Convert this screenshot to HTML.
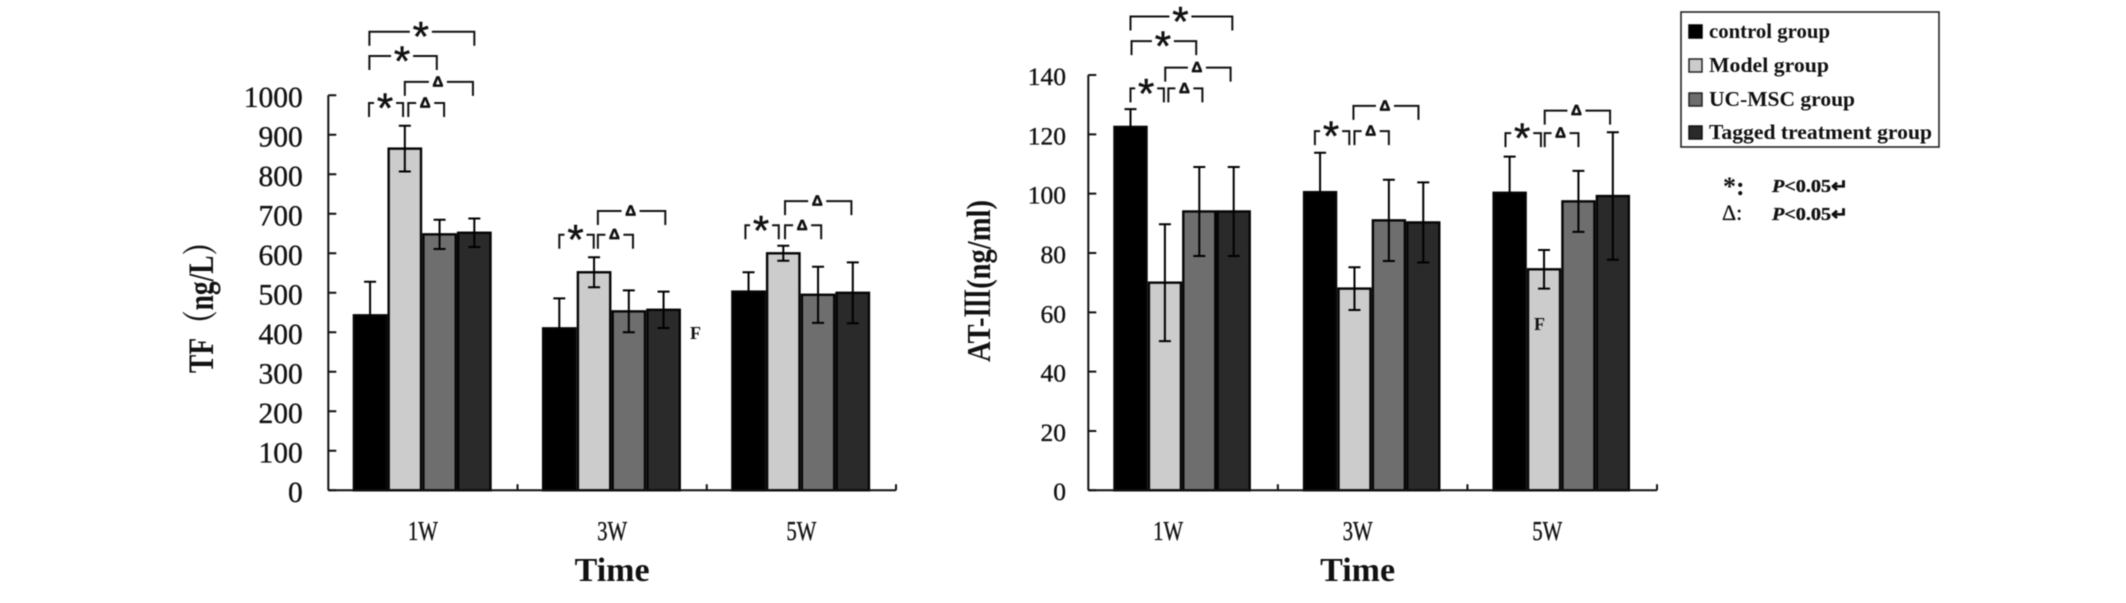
<!DOCTYPE html>
<html lang="en">
<head>
<meta charset="utf-8">
<title>TF and AT-III levels by group over time</title>
<style>
html,body{margin:0;padding:0;background:#fff;}
body{width:2126px;height:603px;overflow:hidden;}
svg{display:block;filter:blur(0.55px);}
text{fill:#111;}
.tick{font-family:"Liberation Serif","Noto Serif CJK SC",serif;stroke:#111;stroke-width:0.35px;}
.bold{font-family:"Liberation Serif","Noto Serif CJK SC",serif;font-weight:bold;}
</style>
</head>
<body>
<svg id="figure" xmlns="http://www.w3.org/2000/svg" width="2126" height="603" viewBox="0 0 2126 603">
  <g>
    <rect x="1681" y="12" width="258" height="135" fill="#fff" stroke="#222" stroke-width="1.6"/>
    <rect x="1689" y="25" width="13" height="13" fill="#000" stroke="#000" stroke-width="1.5"/>
    <text class="bold" x="1709" y="38" font-size="21" textLength="121" lengthAdjust="spacingAndGlyphs">control group</text>
    <rect x="1689" y="59" width="13" height="13" fill="#ccc" stroke="#222" stroke-width="1.5"/>
    <text class="bold" x="1709" y="72" font-size="21" textLength="120" lengthAdjust="spacingAndGlyphs">Model group</text>
    <rect x="1689" y="93" width="13" height="13" fill="#6e6e6e" stroke="#222" stroke-width="1.5"/>
    <text class="bold" x="1709" y="106" font-size="21" textLength="146" lengthAdjust="spacingAndGlyphs">UC-MSC group</text>
    <rect x="1689" y="126" width="13" height="13" fill="#2a2a2a" stroke="#111" stroke-width="1.5"/>
    <text class="bold" x="1709" y="139" font-size="21" textLength="223" lengthAdjust="spacingAndGlyphs">Tagged treatment group</text>
  </g>
  <g>
    <text class="bold" x="1723" y="195" font-size="26">*:</text>
    <text class="tick" x="1772" y="192" font-size="18" font-weight="bold" textLength="76" lengthAdjust="spacingAndGlyphs"><tspan font-style="italic">P</tspan>&lt;0.05↵</text>
    <text class="tick" x="1722" y="220" font-size="22">Δ:</text>
    <text class="tick" x="1772" y="220" font-size="18" font-weight="bold" textLength="76" lengthAdjust="spacingAndGlyphs"><tspan font-style="italic">P</tspan>&lt;0.05↵</text>
  </g>
</svg>
<script>
// Shared categories and series names
const categories = ['1W', '3W', '5W'];
const seriesKeys = ['control', 'model', 'uc-msc', 'tagged'];
const seriesFills = ['#000000', '#cccccc', '#6e6e6e', '#2a2a2a'];

// TF chart data (ng/L), one row per week, one entry per group
const tfValues = [
  [443, 865, 648, 652],
  [410, 552, 453, 457],
  [503, 600, 495, 500]
];
const tfErrors = [
  [85, 58, 37, 36],
  [76, 38, 53, 46],
  [49, 19, 71, 77]
];
const tfTicks = [0, 100, 200, 300, 400, 500, 600, 700, 800, 900, 1000];

// AT-III chart data (ng/ml)
const atValues = [
  [122.5, 70, 94, 94],
  [100.5, 68, 91, 90.3],
  [100.3, 74.5, 97.4, 99.2]
];
const atErrors = [
  [6, 19.7, 15, 15],
  [13.3, 7.2, 13.7, 13.5],
  [12.2, 6.5, 10.3, 21.5]
];
const atTicks = [0, 20, 40, 60, 80, 100, 120, 140];

// Significance brackets: week index, start/end in bar-index units, height in data units, symbol
const tfBracketWeek = [0, 0, 0, 0, 0, 1, 1, 1, 2, 2, 2];
const tfBracketFrom = [-0.02, -0.02, 1, -0.03, 1.1, 0, 1.11, 1.11, -0.09, 1.05, 1.05];
const tfBracketTo = [3, 1.92, 2.96, 0.95, 2.13, 0.99, 2.12, 3.05, 0.87, 2.09, 2.96];
const tfBracketLevel = [1161, 1099.5, 1034, 980.5, 980.5, 647, 647, 707, 671, 671, 732];
const atBracketWeek = [0, 0, 0, 0, 0, 1, 1, 1, 2, 2, 2];
const atBracketFrom = [0, 0.03, 1.01, 0, 1.1, -0.15, 1, 0.97, -0.12, 1.02, 1.02];
const atBracketTo = [2.96, 1.91, 2.91, 0.97, 2.09, 0.85, 2, 2.86, 0.91, 2, 2.92];
const atBracketLevel = [159.7, 151.4, 142.5, 135.5, 135.5, 121.1, 121.1, 129.6, 120.4, 120.4, 128];
const bracketSymbols = ['*', '*', 'Δ', '*', 'Δ', '*', 'Δ', 'Δ', '*', 'Δ', 'Δ'];

const NS = 'http://www.w3.org/2000/svg';
const figure = document.getElementById('figure');

function make(tag, parent) {
  const el = document.createElementNS(NS, tag);
  parent.appendChild(el);
  return el;
}
function setAll(el, attrs) {
  Object.keys(attrs).forEach(function (k) { el.setAttribute(k, attrs[k]); });
}

function drawChart(cfg) {
  const root = make('g', figure);
  
  

  const yScale = function (v) { return cfg.y0 - (v / cfg.yMax) * (cfg.y0 - cfg.yTop); };
  const catWidth = (cfg.xEnd - cfg.x0) / categories.length;
  const barX = function (g, i) { return cfg.x0 + catWidth * g + cfg.pad + i * cfg.barW; };
  const barCenter = function (g, i) { return barX(g, i) + cfg.barW / 2; };

  // Bars
  cfg.values.forEach(function (row, g) {
    row.forEach(function (v, i) {
      const bar = make('rect', root);
      
      
      setAll(bar, {
        x: barX(g, i) + 1.2, y: yScale(v),
        width: cfg.barW - 2.4, height: cfg.y0 - yScale(v),
        fill: seriesFills[i], stroke: '#050505', 'stroke-width': 2.4
      });
    });
  });

  // Error bars
  cfg.values.forEach(function (row, g) {
    row.forEach(function (v, i) {
      const err = make('path', root);
      
      
      const cx = barCenter(g, i);
      const hi = yScale(v + cfg.errors[g][i]);
      const lo = yScale(v - cfg.errors[g][i]);
      setAll(err, {
        d: 'M' + (cx - 6) + ' ' + hi + 'H' + (cx + 6) + 'M' + cx + ' ' + hi + 'V' + lo + 'M' + (cx - 6) + ' ' + lo + 'H' + (cx + 6),
        stroke: '#000', 'stroke-width': 2, fill: 'none'
      });
    });
  });

  // Y axis with ticks and tick labels
  const yAxis = make('path', root);
  
  
  let yd = 'M' + cfg.x0 + ' ' + cfg.y0 + 'V' + cfg.yTop;
  cfg.ticks.forEach(function (t) { yd += 'M' + cfg.x0 + ' ' + yScale(t) + 'h8'; });
  setAll(yAxis, { d: yd, stroke: '#111', 'stroke-width': 2, fill: 'none' });

  cfg.ticks.forEach(function (t) {
    const lab = make('text', root);
    
    
    lab.setAttribute('class', 'tick');
    setAll(lab, { x: cfg.tickRight, y: yScale(t) + cfg.tickSize * 0.39, 'text-anchor': 'end', 'font-size': cfg.tickSize });
    lab.textContent = t;
  });

  // X axis
  const xAxis = make('path', root);
  
  
  let xd = 'M' + cfg.x0 + ' ' + cfg.y0 + 'H' + cfg.xEnd;
  categories.forEach(function (c, g) { xd += 'M' + (cfg.x0 + catWidth * (g + 1)) + ' ' + cfg.y0 + 'v-6'; });
  setAll(xAxis, { d: xd, stroke: '#111', 'stroke-width': 2, fill: 'none' });

  categories.forEach(function (c, g) {
    const lab = make('text', root);
    
    
    lab.setAttribute('class', 'tick');
    setAll(lab, { x: cfg.x0 + catWidth * (g + 0.5) + cfg.labelDx, y: 540, 'text-anchor': 'middle', 'font-size': 27, textLength: 30, lengthAdjust: 'spacingAndGlyphs' });
    lab.textContent = c;
  });

  // Axis titles
  const xTitle = make('text', root);
  
  
  xTitle.setAttribute('class', 'bold');
  setAll(xTitle, { x: cfg.x0 + (cfg.xEnd - cfg.x0) / 2 + cfg.labelDx, y: 581, 'text-anchor': 'middle', 'font-size': 34 });
  xTitle.textContent = 'Time';

  const yTitle = make('text', root);
  
  
  yTitle.setAttribute('class', 'bold');
  setAll(yTitle, {
    transform: 'translate(' + cfg.titleX + ' ' + cfg.titleY + ') rotate(-90)',
    'text-anchor': 'middle', 'font-size': cfg.titleSize,
    textLength: cfg.titleLen, lengthAdjust: 'spacingAndGlyphs'
  });
  yTitle.textContent = cfg.title;

  // Significance brackets
  cfg.brWeek.forEach(function (g, n) {
    const at = function (u) { return barCenter(g, 0) + u * cfg.barW; };
    const xa = at(cfg.brFrom[n]);
    const xb = at(cfg.brTo[n]);
    const y = yScale(cfg.brLevel[n]);
    const cx = (xa + xb) / 2 - 1;
    const sym = bracketSymbols[n];
    const gap = sym === '*' ? 11 : 9;

    const br = make('path', root);
    
    
    setAll(br, {
      d: 'M' + xa + ' ' + (y + 14) + 'V' + y + 'H' + (cx - gap) + 'M' + (cx + gap) + ' ' + y + 'H' + xb + 'V' + (y + 14),
      stroke: '#111', 'stroke-width': 2, fill: 'none'
    });

    const mark = make('text', root);
    
    
    const fs = sym === '*' ? 42 : 15;
    setAll(mark, {
      x: cx, y: sym === '*' ? y + fs * 0.5 - 1.5 : y + 4.5, 'text-anchor': 'middle',
      'font-size': fs, 'font-weight': sym === '*' ? 'normal' : 'bold',
      'font-family': '"Liberation Sans", sans-serif',
      stroke: '#111', 'stroke-width': sym === '*' ? 0.5 : 0.7
    });
    mark.textContent = sym;
  });

  // Stray "F" annotation
  const stray = make('text', root);
  
  
  stray.setAttribute('class', 'bold');
  setAll(stray, { x: cfg.fX, y: cfg.fY, 'font-size': 18 });
  stray.textContent = 'F';
}

drawChart({
  name: 'tf-chart', values: tfValues, errors: tfErrors, ticks: tfTicks, yMax: 1000,
  x0: 328.3, xEnd: 896, y0: 490.3, yTop: 95.3, pad: 24.4, barW: 34.75,
  tickRight: 302.7, tickSize: 29.5, labelDx: 0,
  title: 'TF（ng/L）', titleX: 213, titleY: 300.5, titleLen: 145, titleSize: 36,
  brWeek: tfBracketWeek, brFrom: tfBracketFrom, brTo: tfBracketTo, brLevel: tfBracketLevel,
  fX: 690, fY: 339
});
drawChart({
  name: 'at-iii-chart', values: atValues, errors: atErrors, ticks: atTicks, yMax: 140,
  x0: 1088.3, xEnd: 1657, y0: 490.3, yTop: 75, pad: 25, barW: 34.4,
  tickRight: 1066, tickSize: 25.5, labelDx: -15,
  title: 'AT-Ⅲ(ng/ml)', titleX: 990, titleY: 281, titleLen: 162, titleSize: 34,
  brWeek: atBracketWeek, brFrom: atBracketFrom, brTo: atBracketTo, brLevel: atBracketLevel,
  fX: 1534, fY: 330
});
</script>
</body>
</html>
